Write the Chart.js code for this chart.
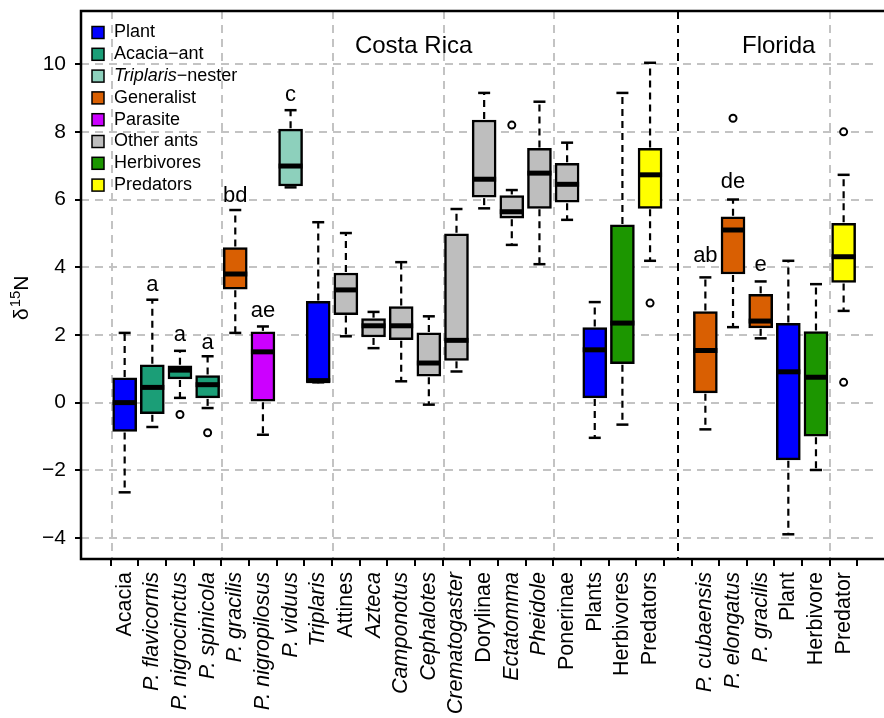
<!DOCTYPE html>
<html><head><meta charset="utf-8">
<style>html,body{margin:0;padding:0;background:#fff;overflow:hidden}</style>
<script src="https://cdn.jsdelivr.net/npm/chart.js@4"></script>
</head><body>
<canvas id="c" width="884" height="718" style="display:block;width:884px;height:718px"></canvas>
<script>
// ---------- data ----------
const categories = ['Acacia','P. flavicornis','P. nigrocinctus','P. spinicola','P. gracilis','P. nigropilosus','P. viduus','Triplaris','Attines','Azteca','Camponotus','Cephalotes','Crematogaster','Dorylinae','Ectatomma','Pheidole','Ponerinae','Plants','Herbivores','Predators','','P. cubaensis','P. elongatus','P. gracilis','Plant','Herbivore','Predator'];
const italicLabel = [false,true,true,true,true,true,true,true,false,true,true,true,true,false,true,true,false,false,false,false,false,true,true,true,false,false,false];
// group index into legend (0 Plant,1 Acacia-ant,2 Triplaris-nester,3 Generalist,4 Parasite,5 Other ants,6 Herbivores,7 Predators)
const groupOf = [0,1,1,1,3,4,2,0,5,5,5,5,5,5,5,5,5,0,6,7,null,3,3,3,0,6,7];
const lowerWhisker = [-2.65,-0.72,0.14,-0.16,2.06,-0.95,6.36,0.60,1.96,1.61,0.63,-0.06,0.92,5.74,4.66,4.09,5.40,-1.04,-0.65,4.19,null,-0.79,2.23,1.90,-3.89,-1.99,2.71];
const q1Values     = [-0.85,-0.33,0.70,0.14,3.35,0.04,6.40,0.60,2.60,1.94,1.86,0.78,1.25,6.07,5.45,5.74,5.92,0.14,1.15,5.74,null,0.29,3.80,2.21,-1.69,-0.99,3.55];
const medianValues = [0.00,0.45,0.96,0.53,3.80,1.50,6.99,0.65,3.33,2.27,2.27,1.17,1.84,6.60,5.64,6.78,6.45,1.56,2.35,6.73,null,1.54,5.10,2.41,0.91,0.75,4.31];
const q3Values     = [0.73,1.12,1.09,0.80,4.58,2.09,8.08,2.99,3.83,2.48,2.84,2.06,4.99,8.35,6.12,7.51,7.07,2.22,5.25,7.51,null,2.69,5.49,3.20,2.34,2.10,5.30];
const upperWhisker = [2.06,3.04,1.53,1.37,5.69,2.25,8.64,5.33,5.01,2.68,4.15,2.55,5.72,9.15,6.28,8.89,7.68,2.97,9.15,10.04,null,3.70,6.00,3.58,4.19,3.50,6.73];
const outlierPos = [3,4,15,20,23,27,27];
const outlierVal = [-0.35,-0.89,8.20,2.94,8.40,8.00,0.60];
const letterText = ['a','a','a','bd','ae','c','ab','de','e'];
const letterPos  = [2,3,4,5,6,7,22,23,24];
const letterVal  = [3.31,1.81,1.59,5.94,2.53,8.92,4.14,6.35,3.90];
const regionText = ['Costa Rica','Florida'];
const regionPos  = [11.45,24.65];
const regionVal  = [10.33,10.33];
const legendLabels = ['Plant','Acacia\u2212ant','Triplaris\u2212nester','Generalist','Parasite','Other ants','Herbivores','Predators'];
const legendColors = ['#0000FF','#1B9E77','#8DD0BC','#D95F02','#CC00FF','#BEBEBE','#1C9600','#FFFF00'];
const yTicks = [-4,-2,0,2,4,6,8,10];
const vGridPos = [0.53,4.53,8.54,12.55,16.52,26.52];
const dividerPos = 21;

// ---------- build ----------
const FONT = '"Liberation Sans", Arial, Helvetica, sans-serif';
const positions = categories.map((_, i) => i + 1);
const boxData = [], boxColors = [];
positions.forEach((p, i) => {
  if (q1Values[i] !== null) { boxData.push({x: p, y: [q1Values[i], q3Values[i]]}); boxColors.push(legendColors[groupOf[i]]); }
});
const outlierData = outlierPos.map((p, i) => ({x: p, y: outlierVal[i]}));

const boxPlugin = {
  id: 'boxplot',
  beforeDatasetsDraw(chart) {
    const {ctx, chartArea: a, scales: {x}} = chart;
    ctx.save();
    ctx.strokeStyle = '#c3c3c3'; ctx.lineWidth = 2; ctx.setLineDash([8, 6]);
    vGridPos.forEach(p => { const px = Math.round(x.getPixelForValue(p)); ctx.beginPath(); ctx.moveTo(px, a.top); ctx.lineTo(px, a.bottom); ctx.stroke(); });
    ctx.strokeStyle = '#000'; ctx.lineWidth = 2; ctx.setLineDash([8, 6]);
    const dx = Math.round(x.getPixelForValue(dividerPos));
    ctx.beginPath(); ctx.moveTo(dx, a.top); ctx.lineTo(dx, a.bottom); ctx.stroke();
    ctx.restore();
  },
  afterDatasetsDraw(chart) {
    const {ctx, chartArea: a, scales: {x, y}} = chart;
    ctx.save();
    positions.forEach((p, i) => {
      if (q1Values[i] === null) return;
      const px = x.getPixelForValue(p);
      const yl = y.getPixelForValue(lowerWhisker[i]), yq1 = y.getPixelForValue(q1Values[i]);
      const ym = y.getPixelForValue(medianValues[i]), yq3 = y.getPixelForValue(q3Values[i]);
      const yu = y.getPixelForValue(upperWhisker[i]);
      ctx.strokeStyle = '#000';
      ctx.lineWidth = 2.2; ctx.setLineDash([7, 5]);
      ctx.beginPath(); ctx.moveTo(px, yq3 - 1); ctx.lineTo(px, yu); ctx.stroke();
      ctx.beginPath(); ctx.moveTo(px, yq1 + 1); ctx.lineTo(px, yl); ctx.stroke();
      ctx.setLineDash([]);
      ctx.lineWidth = 2.5;
      ctx.beginPath(); ctx.moveTo(px - 6, yu); ctx.lineTo(px + 6, yu); ctx.stroke();
      ctx.beginPath(); ctx.moveTo(px - 6, yl); ctx.lineTo(px + 6, yl); ctx.stroke();
      ctx.lineWidth = 5;
      ctx.beginPath(); ctx.moveTo(px - 12, ym); ctx.lineTo(px + 12, ym); ctx.stroke();
    });
    // frame
    ctx.lineWidth = 2.5; ctx.strokeStyle = '#000';
    ctx.beginPath(); ctx.moveTo(chart.width, a.top); ctx.lineTo(a.left, a.top); ctx.lineTo(a.left, a.bottom); ctx.lineTo(chart.width, a.bottom); ctx.stroke();
    // significance letters
    ctx.fillStyle = '#000'; ctx.textAlign = 'center'; ctx.textBaseline = 'alphabetic';
    ctx.font = '22px ' + FONT;
    letterText.forEach((t, i) => ctx.fillText(t, x.getPixelForValue(letterPos[i]), y.getPixelForValue(letterVal[i])));
    ctx.font = '24px ' + FONT;
    regionText.forEach((t, i) => ctx.fillText(t, x.getPixelForValue(regionPos[i]), y.getPixelForValue(regionVal[i])));
    // legend
    ctx.textAlign = 'left'; ctx.textBaseline = 'middle';
    legendLabels.forEach((lab, i) => {
      const cy = a.top + 21.5 + i * 21.8;
      ctx.fillStyle = legendColors[i]; ctx.fillRect(a.left + 11, cy - 6, 12, 12);
      ctx.lineWidth = 1.5; ctx.strokeStyle = '#000'; ctx.strokeRect(a.left + 11, cy - 6, 12, 12);
      ctx.fillStyle = '#000';
      const tx = a.left + 33;
      if (i === 2) {
        const parts = lab.split('\u2212');
        ctx.font = 'italic 18px ' + FONT; ctx.fillText(parts[0], tx, cy);
        const w = ctx.measureText(parts[0]).width;
        ctx.font = '18px ' + FONT; ctx.fillText('\u2212' + parts[1], tx + w, cy);
      } else {
        ctx.font = '18px ' + FONT; ctx.fillText(lab, tx, cy);
      }
    });
    // y title
    ctx.save();
    ctx.translate(28, 320); ctx.rotate(-Math.PI / 2);
    ctx.textAlign = 'left'; ctx.textBaseline = 'alphabetic'; ctx.fillStyle = '#000';
    ctx.font = '21px ' + FONT; ctx.fillText('\u03B4', 0, 0);
    let w = ctx.measureText('\u03B4').width;
    ctx.font = '15px ' + FONT; ctx.fillText('15', w + 1, -8);
    w += ctx.measureText('15').width + 1;
    ctx.font = '21px ' + FONT; ctx.fillText('N', w, 0);
    ctx.restore();
    ctx.restore();
  }
};

new Chart(document.getElementById('c'), {
  type: 'bar',
  data: {
    datasets: [
      {type: 'scatter', data: outlierData, pointStyle: 'circle', radius: 3.5, backgroundColor: '#fff', borderColor: '#000', borderWidth: 2, order: 1},
      {type: 'bar', data: boxData, backgroundColor: boxColors, borderColor: '#000', borderWidth: 2.5, borderSkipped: false, barThickness: 24, grouped: false, order: 2}
    ]
  },
  options: {
    responsive: false, animation: false, devicePixelRatio: 1,
    layout: {padding: {top: 11, left: 0, right: 0, bottom: 0}},
    plugins: {legend: {display: false}, tooltip: {enabled: false}},
    scales: {
      x: {
        type: 'linear', min: -0.579, max: 28.243, offset: false,
        afterBuildTicks: s => { s.ticks = positions.map(v => ({value: v})); },
        afterFit: s => { s.height = 159; s.paddingLeft = 0; s.paddingRight = 0; },
        grid: {drawOnChartArea: false, color: '#000', tickColor: '#000', tickLength: 7, lineWidth: 2, tickWidth: 2},
        border: {display: false},
        ticks: {
          autoSkip: false, minRotation: 90, maxRotation: 90, padding: 6, color: '#000',
          font: c => ({family: FONT, size: 21.5, style: italicLabel[c.index] ? 'italic' : 'normal'}),
          callback: v => categories[v - 1]
        }
      },
      y: {
        min: -4.62, max: 11.57,
        afterBuildTicks: s => { s.ticks = yTicks.map(v => ({value: v})); },
        afterFit: s => { s.width = 81; s.paddingTop = 0; s.paddingBottom = 0; },
        grid: {color: '#c3c3c3', lineWidth: 2, tickColor: '#000', tickLength: 6, tickWidth: 2, tickBorderDash: []},
        border: {display: false, dash: [8, 6]},
        ticks: {padding: 9, color: '#000', font: {family: FONT, size: 21}, callback: v => (v < 0 ? '\u2212' + Math.abs(v) : String(v))}
      }
    }
  },
  plugins: [boxPlugin]
});
</script>
</body></html>
